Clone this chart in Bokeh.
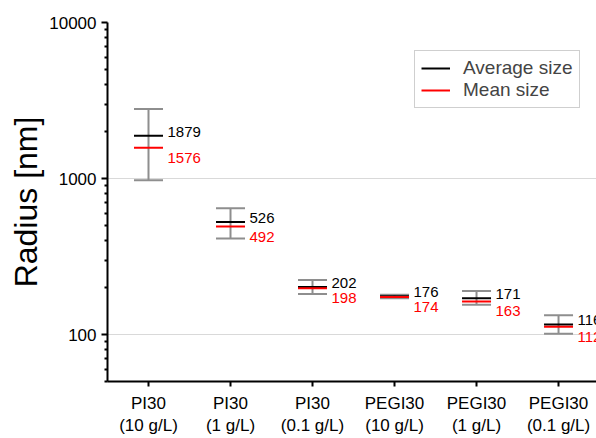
from bokeh.plotting import figure
from bokeh.models import (Range1d, FixedTicker, PrintfTickFormatter, ColumnDataSource,
                          Legend, LegendItem)
from bokeh.core.properties import value
from bokeh.embed import file_html
from bokeh.resources import INLINE

# ---- data ----
categories = ["PI30\n(10 g/L)", "PI30\n(1 g/L)", "PI30\n(0.1 g/L)",
              "PEGI30\n(10 g/L)", "PEGI30\n(1 g/L)", "PEGI30\n(0.1 g/L)"]
positions = [1, 2, 3, 4, 5, 6]
average_size = [1879, 526, 202, 176, 171, 116]
mean_size = [1576, 492, 198, 174, 163, 112]
err_upper = [2793, 644, 224, 180, 190, 133]
err_lower = [975, 413, 182, 171, 155, 101]

FONT = "Liberation Sans"

src = ColumnDataSource(dict(
    x=positions, avg=average_size, mean=mean_size, up=err_upper, lo=err_lower,
    avg_lbl=[str(v) for v in average_size], mean_lbl=[str(v) for v in mean_size],
))

p = figure(width=596, height=438, y_axis_type="log", output_backend="svg",
           toolbar_location=None, x_range=Range1d(0.5, 6.463), y_range=Range1d(50, 10000),
           min_border_left=107, min_border_top=22, min_border_bottom=56, min_border_right=0)
p.outline_line_color = None
p.background_fill_color = "white"
p.border_fill_color = "white"

# error bars
gray = "#8e8e8e"
p.segment(x0="x", y0="lo", x1="x", y1="up", source=src, line_color=gray, line_width=2)
p.scatter(x="x", y="up", source=src, marker="dash", size=29, line_color=gray, line_width=2)
p.scatter(x="x", y="lo", source=src, marker="dash", size=29, line_color=gray, line_width=2)
# average / mean lines
p.scatter(x="x", y="avg", source=src, marker="dash", size=29, line_color="black", line_width=2)
p.scatter(x="x", y="mean", source=src, marker="dash", size=29, line_color="#ff0000", line_width=2)

# value labels
p.text(x="x", y="avg", text="avg_lbl", source=src, x_offset=19, y_offset=1,
       text_baseline="bottom", text_align="left", text_color="black",
       text_font=value(FONT), text_font_size="15px")
p.text(x="x", y="mean", text="mean_lbl", source=src, x_offset=19, y_offset=5,
       text_baseline="top", text_align="left", text_color="#ff0000",
       text_font=value(FONT), text_font_size="15px")

# legend proxies (single-point lines draw nothing in the plot)
l_avg = p.line(x=positions[:1], y=average_size[:1], line_color="black", line_width=2)
l_mean = p.line(x=positions[:1], y=mean_size[:1], line_color="#ff0000", line_width=2)
legend = Legend(items=[LegendItem(label="Average size", renderers=[l_avg]),
                       LegendItem(label="Mean size", renderers=[l_mean])],
                location=(307, 273), label_text_font=FONT, label_text_font_size="19px",
                glyph_width=29, label_standoff=13, padding=6, spacing=0, margin=0,
                label_height=18, glyph_height=18,
                border_line_color="#a0a0a0", border_line_width=1,
                background_fill_color="white", background_fill_alpha=1)
p.add_layout(legend)

# x axis
p.xaxis.ticker = FixedTicker(ticks=positions)
p.xaxis.major_label_overrides = {pos: lab for pos, lab in zip(positions, categories)}
p.xaxis.axis_line_width = 2
p.xaxis.major_tick_line_width = 2
p.xaxis.major_tick_out = 5
p.xaxis.major_tick_in = 0
p.xaxis.minor_tick_line_color = None
p.xaxis.major_label_text_font = FONT
p.xaxis.major_label_text_font_size = "17px"
p.xaxis.major_label_standoff = 7
p.xaxis.major_label_text_color = "black"

# y axis
minor = [m * d for d in (10, 100, 1000) for m in range(2, 10) if 50 <= m * d < 10000]
p.yaxis.ticker = FixedTicker(ticks=[100, 1000, 10000], minor_ticks=minor)
p.yaxis.formatter = PrintfTickFormatter(format="%d")
p.yaxis.axis_line_width = 2
p.yaxis.major_tick_line_width = 2
p.yaxis.major_tick_out = 6
p.yaxis.major_tick_in = 0
p.yaxis.minor_tick_line_width = 2
p.yaxis.minor_tick_out = 3
p.yaxis.minor_tick_in = 0
p.yaxis.major_label_text_font = FONT
p.yaxis.major_label_text_font_size = "17px"
p.yaxis.major_label_standoff = 5
p.yaxis.major_label_text_color = "black"
p.yaxis.axis_label = "Radius [nm]"
p.yaxis.axis_label_text_font = FONT
p.yaxis.axis_label_text_font_size = "32px"
p.yaxis.axis_label_text_font_style = "normal"
p.yaxis.axis_label_standoff = 2
p.yaxis.axis_label_text_color = "black"

p.xgrid.visible = False
p.ygrid.grid_line_color = "#d9d9d9"
p.ygrid.grid_line_width = 1

open("out.html", "w").write(file_html(p, INLINE))
